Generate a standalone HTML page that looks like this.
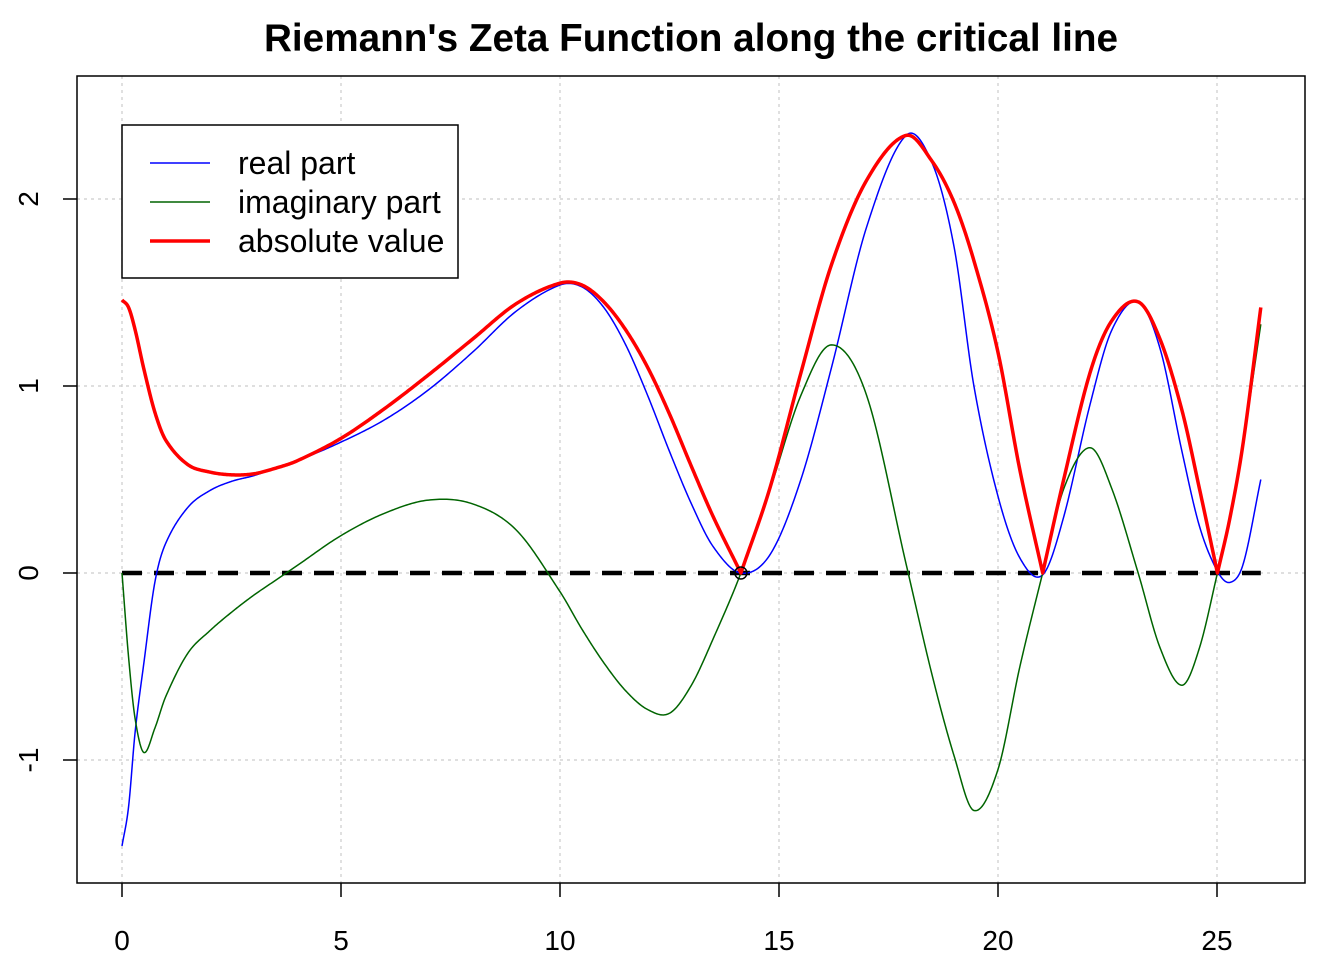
<!DOCTYPE html>
<html><head><meta charset="utf-8"><style>
body{margin:0;background:#fff;}
svg text{font-family:"Liberation Sans",Arial,sans-serif;}
</style></head><body>
<svg id="chart" width="1344" height="960" viewBox="0 0 1344 960">
<text x="691" y="51" text-anchor="middle" font-size="38.7" font-weight="bold">Riemann's Zeta Function along the critical line</text>
<g id="grid"></g>
<g id="series"></g>
<rect x="77" y="76" width="1228" height="807" fill="none" stroke="#000" stroke-width="1.5"/>
<g id="axes"></g>
<g>
<rect x="122" y="125" width="336" height="153" fill="#fff" stroke="#000" stroke-width="1.5"/>
<line x1="150" y1="163" x2="210" y2="163" stroke="#0000ff" stroke-width="1.5"/>
<text x="238" y="174" font-size="32">real part</text>
<line x1="150" y1="202" x2="210" y2="202" stroke="#006400" stroke-width="1.5"/>
<text x="238" y="213" font-size="32">imaginary part</text>
<line x1="150" y1="241" x2="210" y2="241" stroke="#ff0000" stroke-width="3.5"/>
<text x="238" y="252" font-size="32">absolute value</text>
</g>
</svg>
<script>
const tVals=[0,0.15,0.3,0.5,0.75,1,1.5,2,2.5,3,3.5,4,5,6,7,8,9,10,10.5,11,11.5,12,12.5,13,13.5,14.13,14.8,15.5,16.2,17,17.9,18.5,19,19.45,20,20.5,21.02,21.5,22.1,22.6,23.2,23.7,24.2,24.6,25.01,25.3,25.6,26];
const realVals=[-1.46,-1.25,-0.85,-0.48,-0.05,0.16,0.35,0.44,0.49,0.52,0.56,0.6,0.7,0.82,0.98,1.18,1.4,1.54,1.53,1.42,1.22,0.95,0.65,0.37,0.14,0,0.1,0.5,1.1,1.85,2.34,2.19,1.74,1.0,0.41,0.08,-0.01,0.3,0.9,1.3,1.45,1.2,0.65,0.25,0.01,-0.05,0.05,0.5];
const imagVals=[0,-0.45,-0.78,-0.96,-0.83,-0.66,-0.43,-0.31,-0.21,-0.12,-0.04,0.04,0.2,0.32,0.39,0.37,0.23,-0.1,-0.3,-0.48,-0.63,-0.73,-0.75,-0.6,-0.35,0,0.45,0.95,1.22,0.95,0.05,-0.55,-0.98,-1.27,-1.05,-0.5,0,0.45,0.67,0.45,0,-0.4,-0.6,-0.4,0,0.3,0.7,1.33];
const absVals=[1.46,1.42,1.3,1.09,0.86,0.71,0.58,0.54,0.525,0.53,0.56,0.6,0.72,0.88,1.06,1.25,1.44,1.55,1.54,1.45,1.3,1.1,0.85,0.57,0.3,0,0.46,1.07,1.65,2.1,2.34,2.2,1.98,1.67,1.18,0.55,0,0.5,1.07,1.35,1.45,1.25,0.87,0.45,0,0.3,0.7,1.42];
const xTicks=[0,5,10,15,20,25];
const yTicks=[-1,0,1,2];
const zeroMarks=[14.13];
const NS='http://www.w3.org/2000/svg';
const X=t=>122+t*43.8, Y=v=>573-v*187;
function mk(tag,attrs,parent){const e=document.createElementNS(NS,tag);for(const k in attrs)e.setAttribute(k,attrs[k]);document.getElementById(parent).appendChild(e);return e;}
xTicks.forEach(t=>{
 const g=mk('line',{x1:X(t),x2:X(t),y1:76,y2:883,stroke:'#ccc','stroke-dasharray':'3,4','stroke-width':1.2},'grid');
 
 
 const tk=mk('line',{x1:X(t),x2:X(t),y1:883,y2:897,stroke:'#000','stroke-width':1.5},'axes');
 
 
 const tx=mk('text',{x:X(t),y:950,'text-anchor':'middle','font-size':28},'axes');tx.textContent=t;
 
 
});
yTicks.forEach(v=>{
 const g=mk('line',{x1:77,x2:1305,y1:Y(v),y2:Y(v),stroke:'#ccc','stroke-dasharray':'3,4','stroke-width':1.2},'grid');
 
 
 const tk=mk('line',{x1:63,x2:77,y1:Y(v),y2:Y(v),stroke:'#000','stroke-width':1.5},'axes');
 
 
 const tx=mk('text',{x:0,y:0,'text-anchor':'middle','font-size':28,transform:`translate(38,${Y(v)}) rotate(-90)`},'axes');tx.textContent=v;
 
 
});
// Hermite/Catmull-Rom sampling; cusp=true uses one-sided tangents at zero values
function sample(vals,cusp){
 const out=[];const n=tVals.length;
 const slope=(a,b)=>(vals[b]-vals[a])/(tVals[b]-tVals[a]);
 function tan(i,side){
  if(i===0)return slope(0,1); if(i===n-1)return slope(n-2,n-1);
  if(cusp&&vals[i]===0)return side<0?slope(i-1,i):slope(i,i+1);
  return slope(i-1,i+1);}
 for(let i=0;i<n-1;i++){
  const t1=tVals[i],t2=tVals[i+1],h=t2-t1,v1=vals[i],v2=vals[i+1];
  const m1=tan(i,1)*h,m2=tan(i+1,-1)*h;
  const steps=24;
  for(let s=0;s<steps;s++){const u=s/steps,u2=u*u,u3=u2*u;
   const v=(2*u3-3*u2+1)*v1+(u3-2*u2+u)*m1+(-2*u3+3*u2)*v2+(u3-u2)*m2;
   out.push([t1+u*h,cusp?Math.max(0,v):v]);}
 }
 out.push([tVals[n-1],vals[n-1]]);return out;}
const pd=pts=>'M'+pts.map(p=>X(p[0]).toFixed(2)+','+Y(p[1]).toFixed(2)).join(' L');
const zl=mk('line',{x1:X(0),x2:X(26),y1:Y(0),y2:Y(0),stroke:'#000','stroke-width':4.5,'stroke-dasharray':'20,12'},'series');


const re=mk('path',{d:pd(sample(realVals,false)),fill:'none',stroke:'#0000ff','stroke-width':1.5},'series');


const im=mk('path',{d:pd(sample(imagVals,false)),fill:'none',stroke:'#006400','stroke-width':1.5},'series');


const ab=mk('path',{d:pd(sample(absVals,true)),fill:'none',stroke:'#ff0000','stroke-width':3.5,'stroke-linejoin':'round'},'series');


zeroMarks.forEach(z=>{const c=mk('circle',{cx:X(z),cy:Y(0),r:6,fill:'none',stroke:'#000','stroke-width':1.5},'series');
 
 });
</script>
</body></html>
